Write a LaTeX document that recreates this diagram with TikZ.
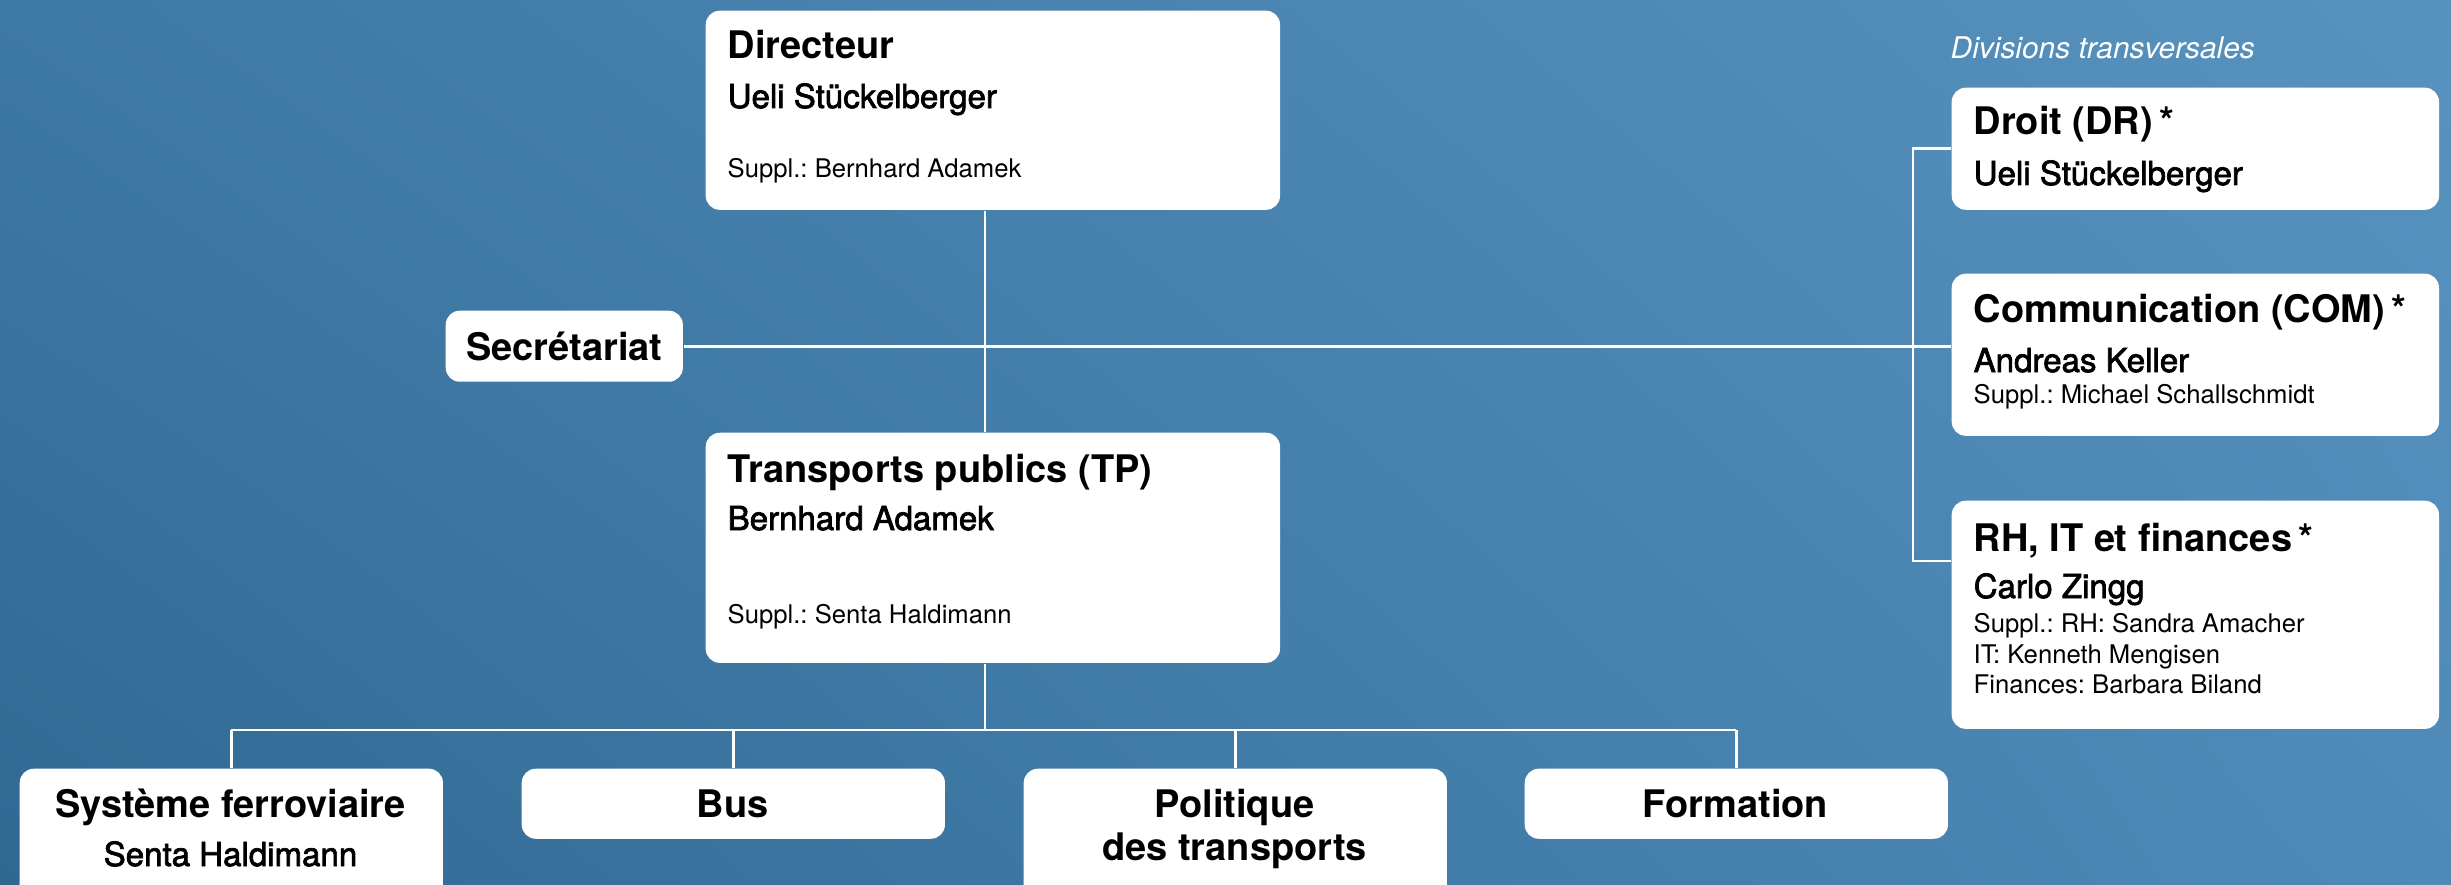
\documentclass[tikz,border=0pt]{standalone}
\usepackage{fontspec}
\setmainfont{TeX Gyre Heros}
\newfontfamily\moyen[FakeBold=2.2]{TeX Gyre Heros}
\usepackage{tikz}
\usetikzlibrary{positioning,shadings}
\frenchspacing

\definecolor{fondhg}{HTML}{3E79A4}
\definecolor{fondhd}{HTML}{5892BF}
\definecolor{fondbg}{HTML}{306892}
\definecolor{fondbd}{HTML}{4E8AB8}

\begin{document}
\begin{tikzpicture}[x=0.01cm, y=-0.01cm,
    boite/.style={fill=white, rounded corners=0.14cm, inner sep=0pt, anchor=north west},
    titre/.style={font=\bfseries\fontsize{10.8}{13}\selectfont, inner sep=0pt, anchor=base west},
    nom/.style={font=\moyen\fontsize{9.4}{11}\selectfont, inner sep=0pt, anchor=base west},
    suppl/.style={font=\fontsize{7.3}{9}\selectfont, inner sep=0pt, anchor=base west},
    lien/.style={draw=white, line width=0.75pt}]

        % Le fond
        \useasboundingbox (0,0) rectangle (2451,885);
        \clip (0,0) rectangle (2451,885);
        \shade[upper left=fondhg, upper right=fondhd, lower left=fondbg, lower right=fondbd]
            (0,0) rectangle (2451,885);

        % Les boîtes
        \node (dir) [boite, minimum width=5.74cm, minimum height=1.99cm] at (705,10) {};
        \node (tp) [boite, minimum width=5.74cm, minimum height=2.30cm] at (705,432) {};
        \node (sec) [boite, minimum width=2.37cm, minimum height=0.71cm] at (445,310) {};
        \node (dr) [boite, minimum width=4.87cm, minimum height=1.22cm] at (1951,87) {};
        \node (com) [boite, minimum width=4.87cm, minimum height=1.62cm] at (1951,273) {};
        \node (rh) [boite, minimum width=4.87cm, minimum height=2.28cm] at (1951,500) {};
        \node (sys) [boite, minimum width=4.23cm, minimum height=1.30cm] at (19,768) {};
        \node (bus) [boite, minimum width=4.23cm, minimum height=0.70cm] at (521,768) {};
        \node (pol) [boite, minimum width=4.23cm, minimum height=1.30cm] at (1023,768) {};
        \node (form) [boite, minimum width=4.23cm, minimum height=0.70cm] at (1524,768) {};

        % Les textes
        \node (dir-t) [titre] at (727,59) {Directeur};
        \node (dir-n) [nom] at (727,108) {Ueli Stückelberger};
        \node (dir-s) [suppl] at (727,178) {Suppl.: Bernhard Adamek};

        \node (tp-t) [titre] at (727,482) {Transports publics (TP)};
        \node (tp-n) [nom] at (727,530) {Bernhard Adamek};
        \node (tp-s) [suppl] at (727,623) {Suppl.: Senta Haldimann};

        \node (sec-t) [titre, anchor=center] at (sec.center) {Secrétariat};

        \node (div) [font=\itshape\fontsize{8.5}{10}\selectfont, text=white, inner sep=0pt, anchor=base west]
            at (1950,59) {Divisions transversales};

        \node (dr-t) [titre] at (1973,135) {Droit (DR)\,*};
        \node (dr-n) [nom] at (1973,185) {Ueli Stückelberger};

        \node (com-t) [titre] at (1973,323) {Communication (COM)\,*};
        \node (com-n) [nom] at (1973,372) {Andreas Keller};
        \node (com-s) [suppl] at (1973,403) {Suppl.: Michael Schallschmidt};

        \node (rh-t) [titre] at (1973,551) {RH, IT et finances\,*};
        \node (rh-n) [nom] at (1973,598) {Carlo Zingg};
        \node (rh-s1) [suppl] at (1973,632) {Suppl.: RH: Sandra Amacher};
        \node (rh-s2) [suppl] at (1973,663) {IT: Kenneth Mengisen};
        \node (rh-s3) [suppl] at (1973,693) {Finances: Barbara Biland};

        \node (sys-t) [titre, anchor=base] at (230.5,817) {Système ferroviaire};
        \node (sys-n) [nom, anchor=base] at (230.5,866) {Senta Haldimann};
        \node (bus-t) [titre, anchor=base] at (732.5,817) {Bus};
        \node (pol-t) [titre, anchor=base] at (1234.5,817) {Politique};
        \node (pol-t2) [titre, anchor=base] at (1234.5,860) {des transports};
        \node (form-t) [titre, anchor=base] at (1735.5,817) {Formation};

        % Les liens
        \coordinate (tronc) at (985,346);
        \coordinate (cote) at (1913,346);
        \coordinate (rh-lien) at (1951,561);
        \coordinate (fourche) at (985,730);

        \draw[lien] (dir.south -| tronc) -- (tp.north -| tronc);
        \draw[lien] (sec.east) -- (sec.east -| com.west);
        \draw[lien] (dr.west) -| (cote) |- (rh-lien);
        \draw[lien] (tp.south -| fourche) -- (fourche);
        \draw[lien] (sys.north |- fourche) -- (form.north |- fourche);
        \foreach \b in {sys,bus,pol,form}
            \draw[lien] (\b.north) -- (\b.north |- fourche);
    \end{tikzpicture}
\end{document}
